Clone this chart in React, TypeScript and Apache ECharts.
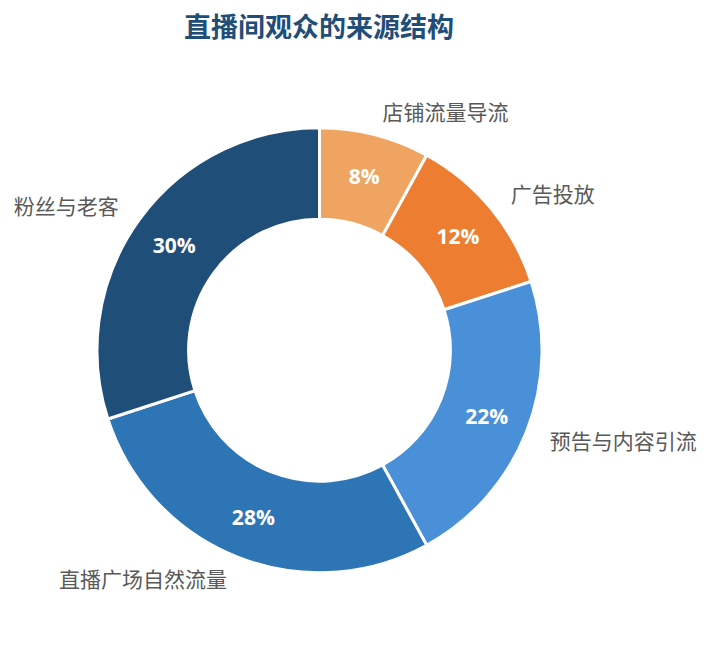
import React, { useEffect, useRef } from "react";
import * as echarts from "echarts";

const sources = ["店铺流量导流", "广告投放", "预告与内容引流", "直播广场自然流量", "粉丝与老客"];
const shares = [8, 12, 22, 28, 30];
const colors = ["#f0a461", "#ed7d31", "#4a90d9", "#2e75b6", "#1f4e79"];

const FONT = "'Open Sans', 'Noto Sans CJK SC', sans-serif";

const App = () => {
  const chartRef = useRef<HTMLDivElement>(null);

  useEffect(() => {
    if (!chartRef.current) return;
    document.body.style.margin = "0";
    const chart = echarts.init(chartRef.current, null, { renderer: "svg" });

    const pieBase = {
      type: "pie",
      center: ["45%", "54.3%"],
      radius: ["40.6%", "69%"],
      startAngle: 90,
      clockwise: true,
      avoidLabelOverlap: false,
    };

    chart.setOption({
      animation: false,
      title: {
        text: "直播间观众的来源结构",
        left: 179,
        top: 8,
        textStyle: {
          fontFamily: FONT,
          fontSize: 27,
          fontWeight: "bold",
          color: "#1f4e79",
        },
      },
      series: [
        {
          ...pieBase,
          data: sources.map((name, i) => ({
            name,
            value: shares[i],
            itemStyle: { color: colors[i], borderColor: "#ffffff", borderWidth: 3 },
          })),
          label: {
            show: true,
            position: "inside",
            formatter: "{c}%",
            color: "#fff",
            fontFamily: FONT,
            fontSize: 21,
            fontWeight: "bold",
          },
          labelLine: { show: false },
        },
        {
          ...pieBase,
          silent: true,
          z: 1,
          data: sources.map((name, i) => ({
            name,
            value: shares[i],
            itemStyle: { color: "rgba(0,0,0,0)", borderWidth: 0 },
          })),
          label: {
            show: true,
            position: "outside",
            formatter: "{b}",
            color: "#595959",
            fontFamily: FONT,
            fontSize: 21,
            distanceToLabelLine: 2,
          },
          labelLine: { show: false, length: 23, length2: 0 },
        },
      ],
    });

    return () => chart.dispose();
  }, []);

  return <div ref={chartRef} style={{ width: "710px", height: "645px" }} />;
};

export default App;
